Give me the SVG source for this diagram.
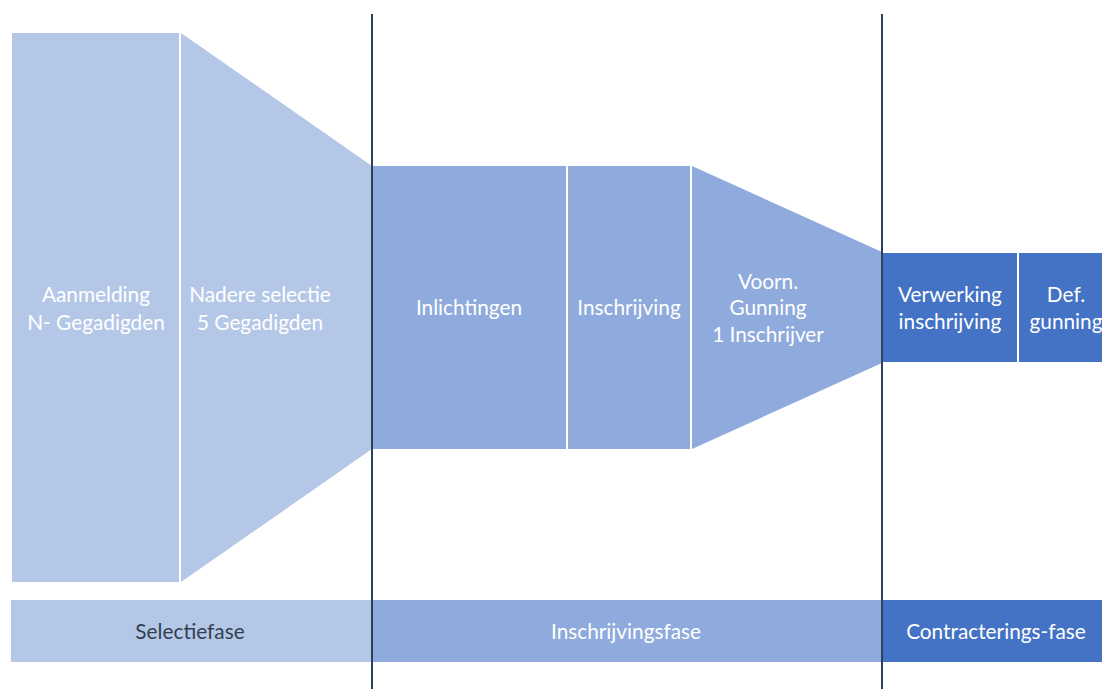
<svg xmlns="http://www.w3.org/2000/svg" width="1102" height="689" viewBox="0 0 1102 689">
<style>
.l1{fill:#B4C7E7}
.l2{fill:#8FAADC}
.l3{fill:#4472C4}
.t{font-family:Lato,"Open Sans",sans-serif;font-size:20.8px;fill:#FFFFFF;text-anchor:middle}
.td{fill:#333F50}
.div{stroke:#2F3F5F;stroke-width:2;fill:none}
</style>
<rect width="1102" height="689" fill="#FFFFFF"/>
<g id="aanmelding">
<rect class="l1" x="12" y="33" width="167" height="549"/>
<text class="t" x="96" y="302">Aanmelding</text>
<text class="t" x="96" y="330">N- Gegadigden</text>
</g>
<g id="nadere-selectie">
<polygon class="l1" points="181,33 372,166 372,449 181,582"/>
<text class="t" x="260" y="302">Nadere selectie</text>
<text class="t" x="260" y="330">5 Gegadigden</text>
</g>
<g id="inlichtingen">
<rect class="l2" x="372" y="166" width="194" height="283"/>
<text class="t" x="469" y="315">Inlichtingen</text>
</g>
<g id="inschrijving">
<rect class="l2" x="568" y="166" width="122" height="283"/>
<text class="t" x="629" y="315">Inschrijving</text>
</g>
<g id="voorn-gunning">
<polygon class="l2" points="692,166 882,252 882,363 692,449"/>
<text class="t" x="768" y="289">Voorn.</text>
<text class="t" x="768" y="315">Gunning</text>
<text class="t" x="768" y="342">1 Inschrijver</text>
</g>
<g id="verwerking">
<rect class="l3" x="882" y="253" width="135" height="109"/>
<text class="t" x="950" y="302">Verwerking</text>
<text class="t" x="950" y="329">inschrijving</text>
</g>
<g id="def-gunning">
<rect class="l3" x="1019" y="253" width="93" height="109"/>
<text class="t" x="1066" y="302">Def.</text>
<text class="t" x="1066" y="329">gunning</text>
</g>
<g id="selectiefase">
<rect class="l1" x="11" y="600" width="361" height="62"/>
<text class="t td" x="190" y="639">Selectiefase</text>
</g>
<g id="inschrijvingsfase">
<rect class="l2" x="372" y="600" width="510" height="62"/>
<text class="t" x="626" y="639">Inschrijvingsfase</text>
</g>
<g id="contracteringsfase">
<rect class="l3" x="882" y="600" width="220" height="62"/>
<text class="t" x="996" y="639">Contracterings-fase</text>
</g>
<g id="connectors">
<line class="div" x1="372" y1="14" x2="372" y2="689"/>
<line class="div" x1="882" y1="14" x2="882" y2="689"/>
</g>
</svg>
